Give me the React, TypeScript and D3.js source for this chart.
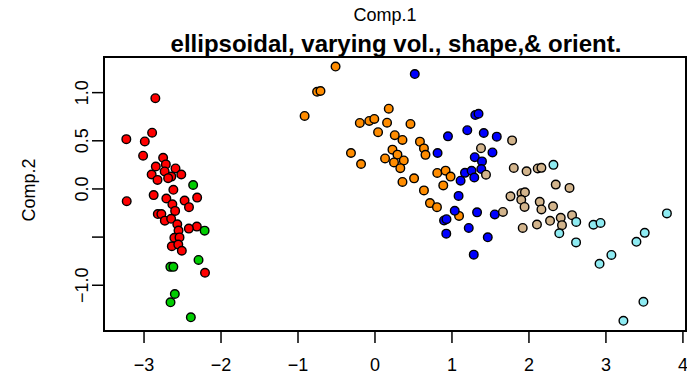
import React from "react";
import * as d3 from "d3";

// Principal-component scores, one array pair per mixture component
const redX = [-2.853, -2.895, -3.230, -2.990, -3.012, -2.752, -2.717, -2.847, -2.591, -2.732, -2.901, -2.516, -2.645, -2.687, -2.825, -2.619, -3.225, -2.875, -2.710, -2.310, -2.473, -2.632, -2.416, -2.596, -2.821, -2.775, -2.730, -2.648, -2.568, -2.314, -2.418, -2.552, -2.606, -2.539, -2.639, -2.555, -2.509, -2.208];
const redY = [0.942, 0.584, 0.517, 0.493, 0.345, 0.323, 0.255, 0.233, 0.213, 0.182, 0.150, 0.150, 0.128, 0.112, 0.094, -0.009, -0.127, -0.064, -0.099, -0.090, -0.121, -0.159, -0.189, -0.228, -0.261, -0.261, -0.329, -0.310, -0.367, -0.391, -0.412, -0.432, -0.507, -0.503, -0.595, -0.578, -0.642, -0.870];

const greenX = [-2.362, -2.213, -2.292, -2.658, -2.619, -2.600, -2.656, -2.392];
const greenY = [0.041, -0.433, -0.737, -0.809, -0.809, -1.091, -1.177, -1.333];

const orangeX = [-0.512, -0.752, -0.708, -0.914, 0.179, -0.197, -0.074, -0.009, 0.157, 0.461, 0.040, 0.257, 0.357, 0.584, 0.636, 0.656, -0.312, -0.181, 0.227, 0.292, 0.131, 0.374, 0.247, 0.329, 0.357, 0.508, 0.809, 0.917, 0.982, 0.887, 0.636, 0.714, 0.805, 1.092];
const orangeY = [1.271, 1.009, 1.017, 0.758, 0.833, 0.685, 0.706, 0.727, 0.688, 0.675, 0.589, 0.558, 0.509, 0.491, 0.421, 0.354, 0.373, 0.259, 0.408, 0.356, 0.317, 0.296, 0.275, 0.216, 0.073, 0.110, 0.166, 0.190, 0.128, 0.037, -0.015, -0.147, -0.189, -0.280];

const blueX = [0.517, 1.303, 1.345, 0.948, 1.199, 1.413, 1.582, 0.813, 1.296, 1.390, 1.526, 1.381, 1.169, 1.255, 1.290, 1.112, 1.086, 1.036, 0.897, 0.929, 1.326, 1.556, 1.218, 0.926, 1.465, 1.283];
const blueY = [1.193, 0.768, 0.781, 0.546, 0.610, 0.581, 0.543, 0.373, 0.330, 0.286, 0.379, 0.207, 0.167, 0.188, 0.119, 0.086, -0.072, -0.227, -0.327, -0.314, -0.243, -0.265, -0.405, -0.464, -0.502, -0.682];

const tanX = [1.377, 1.442, 1.781, 1.803, 1.969, 2.114, 2.162, 2.348, 2.527, 1.760, 1.903, 1.948, 1.900, 1.943, 2.140, 2.162, 2.313, 1.662, 1.919, 2.104, 2.274, 2.413, 2.429, 2.560];
const tanY = [0.423, 0.148, 0.504, 0.218, 0.183, 0.213, 0.219, 0.045, 0.011, -0.077, -0.044, -0.035, -0.113, -0.187, -0.134, -0.213, -0.180, -0.239, -0.405, -0.370, -0.331, -0.300, -0.376, -0.272];

const cyanX = [2.318, 2.614, 2.394, 2.612, 2.838, 2.930, 3.792, 3.504, 3.396, 3.071, 2.917, 3.487, 3.227];
const cyanY = [0.250, -0.342, -0.460, -0.555, -0.372, -0.353, -0.254, -0.456, -0.549, -0.685, -0.777, -1.172, -1.369];

const xTicks = [-3, -2, -1, 0, 1, 2, 3, 4];
const yTicks = [-1.0, -0.5, 0.0, 0.5, 1.0];
const yTickLabels = ["\u22121.0", "", "0.0", "0.5", "1.0"];

const groups = [
  { xs: redX, ys: redY, fill: "#FF0000" },
  { xs: greenX, ys: greenY, fill: "#00CD00" },
  { xs: orangeX, ys: orangeY, fill: "#FF8C00" },
  { xs: blueX, ys: blueY, fill: "#0000FF" },
  { xs: tanX, ys: tanY, fill: "#D2B48C" },
  { xs: cyanX, ys: cyanY, fill: "#8EEBF2" },
];

const W = 687;
const H = 376;
const left = 104;
const right = 686;
const top = 57;
const bottom = 331;
const font = "'Liberation Sans', Arial, Helvetica, sans-serif";

const fmtX = (v: number) => (v < 0 ? "\u2212" + Math.abs(v) : String(v));

export default function App() {
  const x = d3.scaleLinear().domain([-3.52, 4.04]).range([left, right]);
  const y = d3.scaleLinear().domain([-1.475, 1.37]).range([bottom, top]);
  const tickLen = 12;

  return (
    <svg
      width={W}
      height={H}
      style={{ position: "fixed", left: 0, top: 0, background: "#fff" }}
      fontFamily={font}
    >
      <rect x={0} y={0} width={W} height={H} fill="#fff" />
      <text x={385} y={21} textAnchor="middle" fontSize={18} fill="#000">
        Comp.1
      </text>
      <text x={396} y={52} textAnchor="middle" fontSize={24} fontWeight="bold" fill="#000">
        ellipsoidal, varying vol., shape,&amp; orient.
      </text>
      <text
        transform={`translate(35, 190) rotate(-90)`}
        textAnchor="middle"
        fontSize={18}
        fill="#000"
      >
        Comp.2
      </text>

      {/* x axis */}
      {xTicks.map((t) => (
        <g key={"xt" + t}>
          <line x1={x(t)} x2={x(t)} y1={bottom} y2={bottom + tickLen} stroke="#000" strokeWidth={1.5} />
          <text x={x(t)} y={371} textAnchor="middle" fontSize={18} fill="#000">
            {fmtX(t)}
          </text>
        </g>
      ))}

      {/* y axis */}
      {yTicks.map((t, i) => (
        <g key={"yt" + t}>
          <line x1={left - tickLen} x2={left} y1={y(t)} y2={y(t)} stroke="#000" strokeWidth={1.5} />
          {yTickLabels[i] && (
            <text
              transform={`translate(88, ${y(t)}) rotate(-90)`}
              textAnchor="middle"
              fontSize={18}
              fill="#000"
            >
              {yTickLabels[i]}
            </text>
          )}
        </g>
      ))}

      {groups.map((g, gi) =>
        g.xs.map((vx, i) => (
          <circle
            key={gi + "-" + i}
            cx={x(vx)}
            cy={y(g.ys[i])}
            r={4.3}
            fill={g.fill}
            stroke="#000"
            strokeWidth={1.4}
          />
        ))
      )}

      <rect
        x={left}
        y={top}
        width={right - left}
        height={bottom - top}
        fill="none"
        stroke="#000"
        strokeWidth={2}
      />
    </svg>
  );
}
